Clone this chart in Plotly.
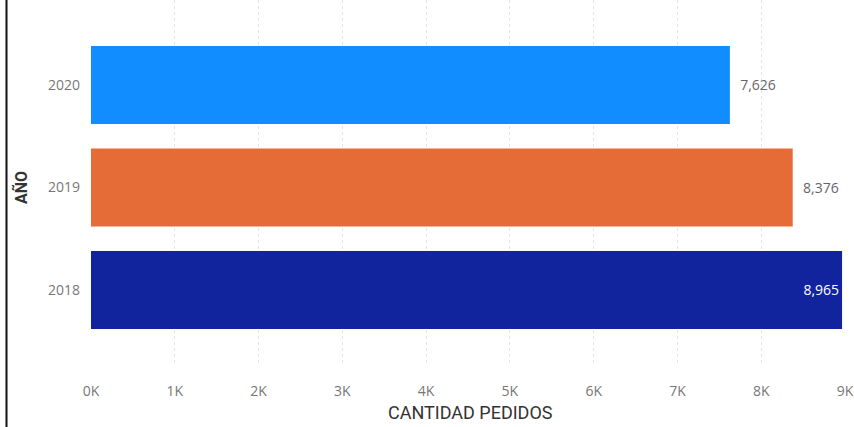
import plotly.graph_objects as go

# Pedidos por año
anios = ["2018", "2019", "2020"]
pedidos = [8965, 8376, 7626]
colores = ["#12239E", "#E66C37", "#118DFF"]
etiqueta_pos = ["inside", "outside", "outside"]
etiqueta_color = ["#FFFFFF", "#666666", "#666666"]
ticks_x = [0, 1000, 2000, 3000, 4000, 5000, 6000, 7000, 8000, 9000]
ticks_x_txt = ["0K", "1K", "2K", "3K", "4K", "5K", "6K", "7K", "8K", "9K"]

# Las etiquetas exteriores llevan un pequeño margen respecto al final de la barra
etiquetas = [
    f"{v:,}" if pos == "inside" else "\u00a0\u00a0" + f"{v:,}"
    for v, pos in zip(pedidos, etiqueta_pos)
]

fig = go.Figure(
    go.Bar(
        x=pedidos,
        y=anios,
        orientation="h",
        marker=dict(color=colores, line=dict(width=0)),
        width=0.76,
        text=etiquetas,
        textposition=etiqueta_pos,
        insidetextanchor="end",
        textfont=dict(family="Open Sans, sans-serif", size=14, color=etiqueta_color),
        cliponaxis=False,
    )
)

fig.update_layout(
    width=854,
    height=427,
    margin=dict(l=91, r=9, t=0, b=62),
    paper_bgcolor="white",
    plot_bgcolor="white",
    showlegend=False,
    xaxis=dict(
        range=[0, 9000],
        tickvals=ticks_x,
        ticktext=ticks_x_txt,
        showgrid=True,
        gridcolor="#E4E4E4",
        griddash="dot",
        gridwidth=1,
        zeroline=False,
        showline=False,
        ticklabelstandoff=16,
        tickfont=dict(family="Open Sans, sans-serif", size=14, color="#777777"),
    ),
    yaxis=dict(
        type="category",
        range=[-0.732, 2.829],
        showgrid=False,
        zeroline=False,
        showline=False,
        ticklabelstandoff=10,
        tickfont=dict(family="Open Sans, sans-serif", size=14, color="#777777"),
    ),
    annotations=[
        dict(
            text="CANTIDAD PEDIDOS",
            xref="paper", yref="paper",
            x=(470 - 91) / 754, y=-(412 - 365) / 365, yanchor="middle", xanchor="center",
            showarrow=False,
            font=dict(family="Roboto, sans-serif", size=18, color="#333333"),
        ),
        dict(
            text="<b>AÑO</b>",
            xref="paper", yref="paper",
            x=(21 - 91) / 754, y=(365 - 188) / 365, xanchor="center", yanchor="middle",
            textangle=-90,
            showarrow=False,
            font=dict(family="Roboto, sans-serif", size=16, color="#333333"),
        ),
    ],
    shapes=[
        dict(
            type="line", xref="paper", yref="paper",
            x0=(6.5 - 91) / 754, x1=(6.5 - 91) / 754,
            y0=-62 / 365, y1=1.0,
            line=dict(color="#111111", width=2),
        )
    ],
)

fig.write_html("out.html")
